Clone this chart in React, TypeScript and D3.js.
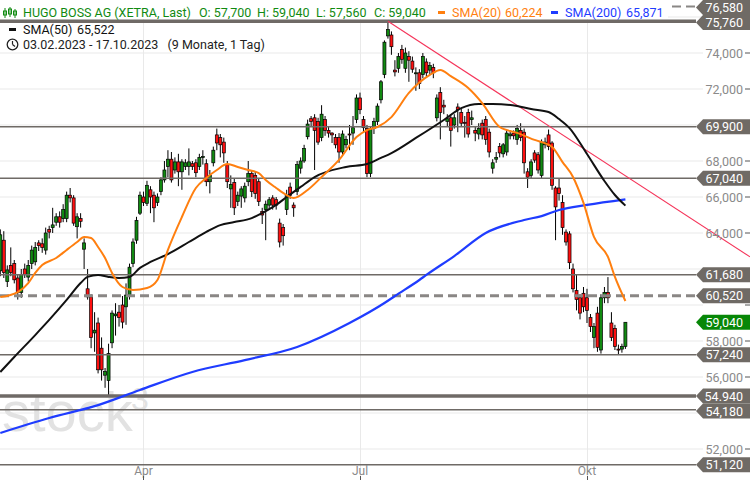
import React, { useEffect } from "react";
import * as d3 from "d3";

const W = 750;
const H = 480;

// OHLC per trading day, 03.02.2023 .. 17.10.2023 (index 0..179)
const openP = [
  61.9, 63.6, 61.3, 62.2, 62.3, 61.5, 60.7, 62.0, 61.55, 62.3,
  62.4, 63.45, 63.4, 63.05, 64.2, 64.3, 64.6, 64.9, 64.8, 64.8,
  66.1, 65.95, 64.35, 64.8, 63.1, 60.9, 60.45, 58.45, 59.0, 57.6,
  56.1, 55.8, 57.9, 59.4, 59.6, 60.0, 59.9, 60.55, 62.3, 63.6,
  65.1, 66.0, 65.65, 66.4, 66.1, 65.7, 66.3, 66.95, 67.7, 68.1,
  67.5, 67.95, 67.4, 67.7, 67.7, 67.85, 67.9, 67.7, 68.2, 67.85,
  66.85, 67.9, 69.45, 69.3, 69.05, 67.8, 66.45, 66.8, 65.75, 66.05,
  65.95, 66.85, 67.3, 67.2, 66.85, 65.2, 65.3, 65.55, 65.95, 65.85,
  64.55, 64.3, 65.3, 66.55, 65.55, 66.3, 67.6, 68.0, 69.35, 70.35,
  70.4, 70.2, 69.3, 70.3, 69.7, 69.55, 69.3, 69.3, 68.5, 68.9,
  69.5, 69.55, 70.3, 71.5, 70.3, 69.8, 67.3, 69.8, 70.2, 71.4,
  72.8, 74.95, 75.0, 73.05, 73.15, 74.2, 73.15, 73.8, 73.55, 72.85,
  72.9, 72.8, 73.5, 73.05, 73.2, 70.4, 71.8, 71.1, 70.2, 70.4,
  70.0, 71.0, 70.7, 70.15, 70.7, 70.3, 69.7, 69.5, 70.1, 70.3,
  69.6, 67.6, 68.1, 68.8, 68.4, 68.5, 69.4, 69.55, 69.2, 69.7,
  69.6, 67.4, 67.2, 68.45, 68.35, 67.2, 68.9, 69.45, 69.0, 66.5,
  66.5, 65.7, 64.05, 63.95, 62.0, 60.8, 60.4, 60.65, 60.4, 59.3,
  58.2, 59.55, 57.5, 60.4, 60.7, 59.0, 58.7, 57.55, 57.55, 57.7,
];
const highP = [
  64.2, 64.1, 62.2, 63.2, 62.5, 61.7, 62.0, 62.3, 62.5, 63.3,
  63.5, 63.6, 63.7, 64.3, 64.4, 65.4, 65.1, 65.2, 65.6, 66.3,
  66.5, 66.1, 65.1, 65.1, 63.7, 62.0, 60.6, 59.6, 59.3, 58.2,
  56.5, 57.85, 59.7, 60.1, 60.0, 60.5, 61.2, 62.3, 63.7, 64.9,
  66.3, 66.3, 66.9, 66.6, 66.3, 66.2, 67.1, 68.0, 68.6, 68.5,
  68.2, 68.4, 68.1, 68.1, 68.7, 68.0, 68.1, 68.4, 68.6, 68.1,
  67.5, 68.8, 69.8, 69.5, 69.3, 68.0, 67.2, 67.0, 66.3, 66.6,
  66.8, 68.0, 67.5, 67.4, 67.0, 65.4, 65.8, 66.0, 66.1, 66.0,
  64.8, 64.5, 66.4, 66.8, 65.7, 68.0, 68.2, 68.9, 70.3, 70.5,
  70.6, 70.4, 71.1, 70.5, 69.9, 69.6, 69.5, 69.55, 69.7, 69.4,
  70.0, 70.5, 71.7, 71.8, 70.5, 70.0, 69.9, 70.4, 71.2, 72.5,
  74.7, 75.76, 75.2, 73.6, 74.0, 74.45, 74.3, 74.1, 73.8, 73.2,
  73.1, 74.0, 73.7, 73.5, 73.4, 71.7, 72.1, 71.4, 70.6, 70.6,
  70.6, 71.2, 70.9, 70.5, 70.9, 70.8, 69.9, 70.1, 70.3, 70.5,
  69.8, 68.1, 68.5, 69.0, 69.0, 69.7, 69.7, 69.7, 70.0, 70.1,
  69.8, 67.6, 68.1, 68.6, 68.5, 69.2, 69.3, 69.75, 69.1, 66.6,
  67.0, 66.1, 64.2, 64.1, 62.3, 61.7, 60.6, 61.0, 60.9, 59.5,
  59.0, 59.9, 60.6, 61.0, 61.55, 59.6, 58.9, 57.8, 57.85, 59.04,
];
const lowP = [
  61.6, 61.5, 61.0, 61.6, 61.2, 60.3, 60.4, 61.5, 61.3, 62.0,
  62.2, 63.0, 62.9, 62.8, 63.7, 64.0, 64.4, 64.3, 64.6, 64.6,
  65.7, 64.4, 63.7, 64.3, 62.0, 60.3, 57.6, 57.4, 56.2, 55.8,
  55.4, 55.0, 57.6, 58.3, 58.8, 58.7, 58.9, 60.3, 62.1, 63.4,
  65.0, 65.5, 65.5, 65.1, 64.6, 65.5, 66.1, 66.8, 67.1, 66.8,
  67.3, 66.6, 66.4, 67.5, 67.2, 67.5, 67.1, 67.5, 67.8, 66.6,
  66.2, 67.7, 68.6, 68.2, 67.9, 66.5, 65.4, 65.0, 65.5, 65.4,
  65.7, 66.6, 66.0, 65.9, 65.5, 64.5, 63.6, 65.3, 65.3, 65.3,
  63.2, 63.3, 65.0, 65.9, 64.9, 66.1, 67.3, 67.9, 69.2, 69.9,
  67.5, 68.9, 69.1, 69.4, 69.3, 69.0, 68.7, 67.9, 68.3, 68.7,
  68.6, 68.9, 70.1, 70.6, 69.6, 67.1, 67.1, 69.5, 70.0, 71.2,
  72.6, 74.8, 73.9, 72.7, 72.9, 73.4, 72.9, 72.4, 72.9, 71.9,
  72.0, 72.6, 72.7, 72.8, 72.6, 70.2, 69.2, 70.6, 69.9, 68.8,
  69.8, 69.6, 69.9, 69.3, 69.3, 70.0, 69.1, 69.2, 69.2, 68.9,
  68.2, 67.3, 67.9, 68.2, 68.2, 68.3, 69.2, 69.2, 68.9, 69.1,
  67.3, 66.5, 67.0, 67.9, 67.3, 67.0, 68.7, 68.6, 66.4, 63.6,
  65.8, 63.9, 63.3, 62.0, 60.7, 59.7, 59.2, 59.6, 59.0, 58.5,
  57.6, 57.4, 57.3, 60.1, 60.1, 58.0, 57.5, 57.25, 57.35, 57.56,
];
const closeP = [
  63.9, 61.8, 61.95, 61.8, 61.4, 60.7, 61.7, 61.7, 62.2, 63.05,
  63.2, 63.3, 63.2, 64.0, 64.05, 64.45, 64.9, 64.6, 65.3, 66.1,
  65.95, 64.55, 64.9, 64.65, 63.45, 60.45, 58.2, 58.6, 56.4, 56.4,
  56.3, 57.3, 59.55, 59.5, 59.3, 59.05, 60.55, 62.1, 63.5, 64.7,
  66.1, 65.7, 66.65, 66.0, 65.4, 66.0, 66.95, 67.5, 68.1, 66.95,
  67.95, 67.4, 67.95, 67.9, 67.95, 67.7, 67.35, 68.2, 68.25, 66.85,
  67.2, 68.6, 69.0, 68.9, 68.45, 66.85, 66.7, 65.4, 66.1, 66.45,
  66.6, 67.3, 66.3, 66.2, 65.75, 65.0, 65.6, 65.85, 65.55, 65.55,
  63.5, 63.85, 66.1, 66.1, 65.4, 67.8, 68.0, 68.7, 70.05, 70.2,
  69.7, 69.05, 70.6, 69.7, 69.55, 69.45, 68.9, 68.5, 69.5, 69.2,
  69.45, 69.85, 71.5, 70.85, 69.85, 67.3, 69.8, 70.2, 71.05, 72.4,
  74.6, 75.3, 74.35, 72.95, 73.8, 73.65, 74.0, 73.6, 73.1, 72.9,
  72.3, 73.8, 72.9, 73.3, 72.9, 71.5, 70.7, 71.0, 70.35, 69.7,
  70.4, 70.85, 70.1, 70.1, 69.5, 70.4, 69.55, 69.8, 69.45, 69.2,
  68.5, 67.9, 68.2, 68.45, 68.9, 69.55, 69.5, 69.4, 69.8, 69.3,
  67.9, 67.1, 67.95, 68.05, 67.5, 69.05, 69.05, 68.8, 66.65, 65.45,
  66.2, 64.3, 63.5, 62.35, 60.9, 60.3, 59.55, 59.9, 59.7, 58.8,
  58.8, 57.65, 60.4, 60.7, 60.4, 58.2, 57.7, 57.5, 57.7, 59.04,
];

// moving averages: [day index, value]
const sma20Pts: [number, number][] = [
  [0, 60.44], [5, 60.72], [8, 61.22], [10, 61.78], [12, 62.22], [16, 62.61],
  [19, 63.06], [22, 63.5], [24, 63.78], [26, 63.72], [28, 63.22], [30, 62.61],
  [32, 61.78], [35, 61.0], [38, 60.83], [42, 60.94], [45, 61.39], [48, 63.06],
  [52, 64.89], [56, 66.5], [59, 67.06], [62, 67.5], [65, 67.83], [68, 67.67],
  [71, 67.5], [74, 67.33], [76, 66.94], [79, 66.5], [82, 66.11], [84, 65.94],
  [88, 66.39], [92, 67.11], [97, 68.06], [102, 69.33], [105, 69.72], [108, 69.89],
  [112, 70.44], [117, 71.78], [123, 72.78], [126, 73.06], [129, 72.72], [134, 72.06],
  [138, 71.22], [143, 69.89], [148, 69.56], [153, 69.17], [158, 68.78], [161, 67.94],
  [164, 67.11], [167, 65.67], [170, 63.78], [174, 62.67], [176, 61.56], [179, 60.22],
];
const sma50Pts: [number, number][] = [
  [0, 56.28], [4, 57.11], [10, 58.33], [14, 59.17], [19, 60.28], [23, 61.22],
  [25, 61.56], [28, 61.67], [31, 61.56], [34, 61.5], [37, 61.56], [40, 62.06],
  [43, 62.39], [48, 62.83], [54, 63.5], [59, 64.06], [63, 64.44], [67, 64.61],
  [72, 64.83], [75, 65.11], [79, 65.56], [82, 66.0], [86, 66.56], [90, 67.11],
  [99, 67.67], [105, 67.83], [109, 68.17], [112, 68.44], [119, 69.28], [127, 70.28],
  [132, 70.94], [137, 71.17], [141, 71.17], [148, 71.06], [152, 70.89], [157, 70.72],
  [160, 70.33], [163, 69.83], [168, 68.39], [173, 66.89], [176, 66.11], [179, 65.52],
];
const sma200Pts: [number, number][] = [
  [0, 52.89], [14, 53.72], [28, 54.44], [40, 55.28], [55, 56.28], [70, 56.94],
  [85, 57.67], [100, 59.0], [110, 60.11], [113, 60.5], [120, 61.39], [122, 61.67],
  [130, 62.72], [139, 64.0], [150, 64.72], [155, 64.94], [160, 65.28], [168, 65.56],
  [179, 65.87],
];

const levelValues = [76.58, 75.76, 69.9, 67.04, 61.68, 60.52, 57.24, 54.94, 54.18, 51.12];
const levelLabels = ["76,580", "75,760", "69,900", "67,040", "61,680", "60,520", "57,240", "54.940", "54,180", "51,120"];
const levelKinds = ["dash", "thick", "thin", "thin", "thin", "dashThick", "thin", "thick", "thin", "thin"];
const lastValue = 59.04;
const lastLabel = "59,040";

const yTickValues = [52, 54, 56, 58, 60, 62, 64, 66, 68, 70, 72, 74, 76];
const xTickLabels = ["Apr", "Jul", "Okt"];
const xTickIndex = [41, 103, 168];

const trendPts: [number, number][] = [[111, 75.76], [197.6, 64.83]];

const GREEN = "#118a11";
const RED = "#ff1010";
const LEVEL = "#6f6a66";
const BOX = "#6f6a65";
const FONT = "Roboto, 'Liberation Sans', Arial, sans-serif";

const deLocale = d3.formatLocale({ decimal: ",", thousands: ".", grouping: [3], currency: ["", "€"] });
const fmt3 = deLocale.format(".3f");

export default function App() {
  useEffect(() => {
    document.body.style.margin = "0";
  }, []);

  const x = d3.scaleLinear().domain([0, 179]).range([0.3, 625.4]);
  const y = d3.scaleLinear().domain([52, 74]).range([449, 53]);

  const line = d3
    .line<[number, number]>()
    .x((d) => x(d[0]))
    .y((d) => y(d[1]))
    .curve(d3.curveMonotoneX);

  const slope = (trendPts[1][1] - trendPts[0][1]) / (trendPts[1][0] - trendPts[0][0]);
  const endIdx = x.invert(W);
  const trendEnd: [number, number] = [endIdx, trendPts[0][1] + slope * (endIdx - trendPts[0][0])];

  const tipX = 696;
  const boxL = 703;
  const boxH = 15;

  type Box = { v: number; label: string; cy: number; color: string };
  const boxes: Box[] = levelValues.map((v, i) => ({ v, label: levelLabels[i], cy: y(v), color: BOX }));
  boxes.push({ v: lastValue, label: lastLabel, cy: y(lastValue), color: "#078707" });
  boxes.sort((a, b) => a.cy - b.cy);
  let prevBottom = -Infinity;
  boxes.forEach((b) => {
    let top = Math.max(0, b.cy - boxH / 2);
    if (top < prevBottom) top = prevBottom;
    b.cy = top + boxH / 2;
    prevBottom = top + boxH;
  });

  const visibleTicks = yTickValues.filter((v) => {
    const t = y(v) - 6;
    const b = y(v) + 6;
    return !boxes.some((bx) => t < bx.cy + boxH / 2 && b > bx.cy - boxH / 2);
  });

  const boxPath = (cy: number) =>
    `M${tipX},${cy} L${boxL},${cy - boxH / 2} L${W},${cy - boxH / 2} L${W},${cy + boxH / 2} L${boxL},${cy + boxH / 2} Z`;

  return (
    <svg width={W} height={H} style={{ display: "block", position: "absolute", left: 0, top: 0, background: "#fff" }} fontFamily={FONT}>
      <rect x={0} y={0} width={W} height={H} fill="#fff" />
      {yTickValues.map((v) => (
        <line key={"gy" + v} x1={0} x2={703} y1={y(v)} y2={y(v)} stroke="#e9e9e9" strokeWidth={1} />
      ))}
      {xTickIndex.map((idx) => (
        <line key={"gx" + idx} x1={Math.round(x(idx)) + 0.5} x2={Math.round(x(idx)) + 0.5} y1={0} y2={H} stroke="#e9e9e9" strokeWidth={1} />
      ))}

      <text x={2} y={431} fontSize={56} fill="#e2e2e2" fontFamily="'Liberation Sans', Arial, sans-serif">stock</text>
      <text x={131} y={410} fontSize={32} fill="#e2e2e2" fontFamily="'Liberation Sans', Arial, sans-serif">3</text>

      {closeP.map((c, i) => {
        const o = openP[i];
        const cx = x(i);
        const up = c >= o;
        const top = y(Math.max(o, c));
        const h = Math.max(1, Math.abs(y(o) - y(c)));
        return (
          <g key={"c" + i}>
            <line x1={cx} x2={cx} y1={y(highP[i])} y2={y(lowP[i])} stroke="#000" strokeWidth={1} />
            <rect x={cx - 1.5} y={top} width={3} height={h} fill={up ? GREEN : RED} stroke="#000" strokeWidth={0.7} />
          </g>
        );
      })}

      {levelValues.map((v, i) => {
        const k = levelKinds[i];
        const yy = y(v);
        const sw = k === "thick" ? 3.5 : k === "dashThick" ? 3 : k === "dash" ? 2 : 1.5;
        const dash = k === "dash" || k === "dashThick" ? "9,5" : undefined;
        return <line key={"lv" + i} x1={0} x2={tipX} y1={yy} y2={yy} stroke={k === "dashThick" || k === "dash" ? "#8a8785" : LEVEL} strokeWidth={sw} strokeDasharray={dash} />;
      })}

      <line x1={x(trendPts[0][0])} y1={y(trendPts[0][1])} x2={x(trendEnd[0])} y2={y(trendEnd[1])} stroke="#f5355a" strokeWidth={1.1} />

      <path d={line(sma200Pts) || ""} fill="none" stroke="#1f3cff" strokeWidth={2.2} />
      <path d={line(sma50Pts) || ""} fill="none" stroke="#111" strokeWidth={2} />
      <path d={line(sma20Pts) || ""} fill="none" stroke="#ff7f0f" strokeWidth={2} />

      {yTickValues.map((v) => (
        <line key={"ytm" + v} x1={745} x2={750} y1={y(v)} y2={y(v)} stroke="#555" strokeWidth={1} />
      ))}
      {visibleTicks.map((v) => (
        <text key={"yt" + v} x={743} y={y(v) + 4.5} textAnchor="end" fontSize={12.5} fill="#8a8a8a">{fmt3(v)}</text>
      ))}

      {boxes.map((b, i) => (
        <g key={"bx" + i}>
          <path d={boxPath(b.cy)} fill={b.color} />
          <text x={743} y={b.cy + 4.5} textAnchor="end" fontSize={12.5} fill="#fff">{b.label}</text>
        </g>
      ))}

      {xTickIndex.map((idx, i) => (
        <g key={"xt" + idx}>
          <text x={x(idx)} y={475} textAnchor="middle" fontSize={12} fill="#8a8a8a">{xTickLabels[i]}</text>
          <line x1={Math.round(x(idx)) + 0.5} x2={Math.round(x(idx)) + 0.5} y1={476} y2={H} stroke="#555" strokeWidth={1} />
        </g>
      ))}

      <rect x={0} y={0} width={668} height={19} fill="#fff" />
      <g fill={GREEN} stroke={GREEN}>
        <line x1={5} x2={5} y1={8} y2={18} strokeWidth={1} />
        <rect x={3.5} y={11} width={3} height={4} fill="none" strokeWidth={1} />
        <line x1={10} x2={10} y1={7} y2={17} strokeWidth={1} />
        <rect x={8.5} y={9} width={3} height={5} fill="none" strokeWidth={1} />
        <line x1={15} x2={15} y1={9} y2={18} strokeWidth={1} />
        <rect x={13.5} y={11} width={3} height={4} fill="none" strokeWidth={1} />
      </g>
      <g fontSize={12.5} fill={GREEN}>
        <text x={23} y={17}>HUGO BOSS AG (XETRA, Last)</text>
        <text x={199} y={17}>O: 57,700</text>
        <text x={257} y={17}>H: 59,040</text>
        <text x={316} y={17}>L: 57,560</text>
        <text x={374} y={17}>C: 59,040</text>
      </g>
      <rect x={438} y={11} width={7} height={3} fill="#ff7f0f" />
      <text x={452} y={17} fontSize={12.5} fill="#ff7f0f">SMA(20)</text>
      <text x={505} y={17} fontSize={12.5} fill="#ff7f0f">60,224</text>
      <rect x={551} y={11} width={7} height={3} fill="#1f3cff" />
      <text x={565} y={17} fontSize={12.5} fill="#1f3cff">SMA(200)</text>
      <text x={626} y={17} fontSize={12.5} fill="#1f3cff">65,871</text>

      <rect x={9} y={28} width={7} height={3} fill="#111" />
      <text x={23} y={34} fontSize={12.5} fill="#111">SMA(50)</text>
      <text x={77} y={34} fontSize={12.5} fill="#111">65,522</text>

      <circle cx={12.5} cy={44.5} r={5.3} fill="none" stroke="#222" strokeWidth={1.3} />
      <line x1={12.5} y1={44.5} x2={12.5} y2={41} stroke="#222" strokeWidth={1.2} />
      <line x1={12.5} y1={44.5} x2={15} y2={46.5} stroke="#222" strokeWidth={1.2} />
      <text x={23} y={49} fontSize={12.5} fill="#222" style={{ whiteSpace: "pre" }}>{"03.02.2023 - 17.10.2023   (9 Monate, 1 Tag)"}</text>
    </svg>
  );
}
